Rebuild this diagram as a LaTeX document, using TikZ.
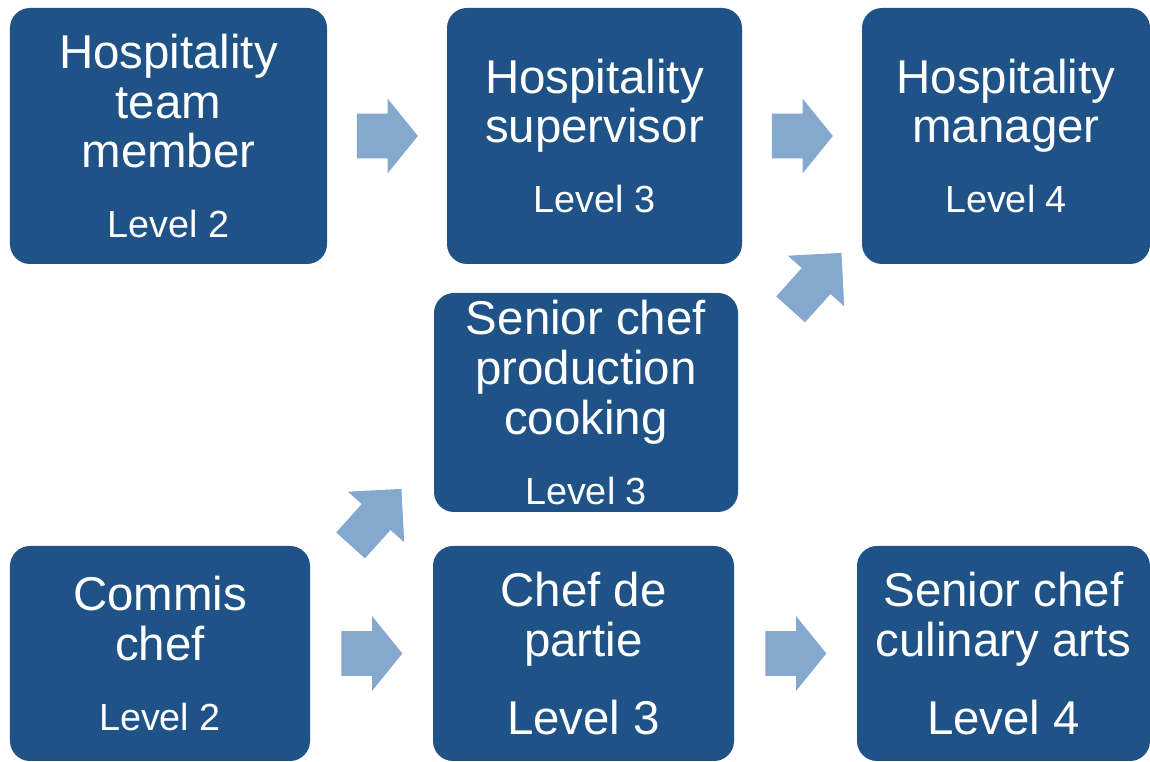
\documentclass[tikz,border=0pt]{standalone}
\usepackage{fontspec}
\setmainfont{Liberation Sans}
\usetikzlibrary{shapes.arrows,calc}

\definecolor{boxblue}{RGB}{31,82,134}
\definecolor{arrowblue}{RGB}{133,168,207}

% smaller type for the level line
\newcommand{\lvl}{\fontsize{21.5pt}{28.45pt}\selectfont}

\tikzset{
  stage/.style={fill=boxblue, rounded corners=0.4cm, text=white, align=center,
    font=\fontsize{27pt}{28.45pt}\selectfont, inner sep=0pt},
  flowarrow/.style={single arrow, fill=arrowblue, inner xsep=0pt, inner ysep=0.44cm,
    minimum height=1.22cm, single arrow head extend=0.3cm,
    single arrow tip angle=102, anchor=tail},
  riserarrow/.style={single arrow, fill=arrowblue, inner xsep=0pt, inner ysep=0.38cm,
    minimum height=1.52cm, single arrow head extend=0.37cm,
    single arrow tip angle=90, anchor=tail, rotate=48},
}

\begin{document}
\begin{tikzpicture}
\useasboundingbox (0,0) rectangle (23,15.24);
% hospitality route
\node[stage, minimum width=6.34cm, minimum height=5.12cm] (team) at (3.37,12.52)
  {Hospitality\\team\\member\\[0.40cm]{\lvl Level 2}};
\node[stage, minimum width=5.90cm, minimum height=5.12cm] (superv) at (11.89,12.52)
  {Hospitality\\supervisor\\[0.40cm]{\lvl Level 3}};
\node[stage, minimum width=5.76cm, minimum height=5.12cm] (manager) at (20.12,12.52)
  {Hospitality\\manager\\[0.40cm]{\lvl Level 4}};
% kitchen route
\node[stage, minimum width=6.08cm, minimum height=4.38cm] (prod) at (11.72,7.19)
  {Senior chef\\production\\cooking\\[0.40cm]{\lvl Level 3}};
\node[stage, minimum width=6.00cm, minimum height=4.30cm] (commis) at (3.20,2.17)
  {Commis\\chef\\[0.40cm]{\lvl Level 2}};
\node[stage, minimum width=6.02cm, minimum height=4.30cm] (partie) at (11.67,2.17)
  {Chef de\\partie\\[0.56cm]Level 3};
\node[stage, minimum width=5.86cm, minimum height=4.30cm] (culinary) at (20.07,2.17)
  {Senior chef\\culinary arts\\[0.56cm]Level 4};

% progression arrows
\node[flowarrow] (a1) at ($(team.east)!0.5!(superv.west)+(-0.61,0)$) {};
\node[flowarrow] (a2) at ($(superv.east)!0.5!(manager.west)+(-0.61,0)$) {};
\node[flowarrow] (a3) at ($(commis.east)!0.5!(partie.west)+(-0.61,0)$) {};
\node[flowarrow] (a4) at ($(partie.east)!0.5!(culinary.west)+(-0.61,0)$) {};
\node[riserarrow] (a5) at ($(commis.north east)+(0.8,0)$) {};
\node[riserarrow] (a6) at ($(prod.north east)+(1.04,-0.34)$) {};
\end{tikzpicture}
\end{document}
